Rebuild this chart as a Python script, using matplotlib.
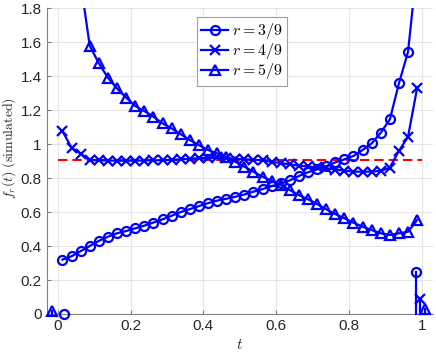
import numpy as np
import matplotlib
matplotlib.use("Agg")
import matplotlib.pyplot as plt

plt.rcParams['font.family'] = ['Liberation Sans', 'DejaVu Sans']
plt.rcParams['mathtext.fontset'] = 'cm'

# grid of t values (cell centres)
t = (np.arange(40) + 0.5) / 40

# r = 3/9
f3 = [0.32, 0.34, 0.37, 0.40, 0.43, 0.455, 0.475, 0.488, 0.504, 0.52,
      0.538, 0.557, 0.578, 0.60, 0.617, 0.635, 0.652, 0.667, 0.678, 0.69,
      0.703, 0.72, 0.735, 0.752, 0.768, 0.786, 0.812, 0.834, 0.851, 0.87,
      0.892, 0.91, 0.93, 0.965, 1.004, 1.067, 1.145, 1.357, 1.543, 2.05]
# r = 4/9
f4 = [1.076, 0.978, 0.943, 0.905, 0.905, 0.903, 0.902, 0.902, 0.902, 0.903,
      0.904, 0.905, 0.907, 0.91, 0.913, 0.917, 0.92, 0.922, 0.918, 0.913,
      0.91, 0.908, 0.904, 0.895, 0.888, 0.88, 0.873, 0.868, 0.863, 0.857,
      0.85, 0.843, 0.838, 0.837, 0.838, 0.842, 0.862, 0.96, 1.043, 1.33]
# r = 5/9
f5 = [4.0, 2.5, 1.95, 1.578, 1.475, 1.39, 1.327, 1.273, 1.224, 1.194,
      1.161, 1.122, 1.092, 1.058, 1.024, 0.994, 0.965, 0.945, 0.925, 0.896,
      0.867, 0.837, 0.808, 0.784, 0.759, 0.729, 0.70, 0.675, 0.647, 0.616,
      0.588, 0.563, 0.537, 0.514, 0.494, 0.475, 0.465, 0.475, 0.484, 0.553]

# point masses at the ends (drawn as stems, shifted a little)
atoms_t = {'o': [0.017, 0.985], 'x': [0.996], '^': [-0.017, 1.008]}
atoms_v = {'o': [0.0, 0.247], 'x': [0.09], '^': [0.02, 0.03]}

ref_level = 10 / 11

blue = (0, 0, 1)
fig = plt.figure(figsize=(4.36, 3.53), dpi=100)
ax = fig.add_axes([0.107, 0.1105, 0.886, 0.8665])

style = dict(color=blue, lw=1.6, ms=6.5, mew=1.6, mfc='none')
ax.plot(t, f3, marker='o', label=r'$r = 3/9$', **style)
ax.plot(t, f4, marker='x', label=r'$r = 4/9$', **style)
ax.plot(t, f5, marker='^', label=r'$r = 5/9$', **style)

for m in atoms_t:
    for tt, vv in zip(atoms_t[m], atoms_v[m]):
        ax.plot([tt, tt], [0, vv], marker=m, markevery=[1], clip_on=False,
                zorder=3, **style)

ax.plot([0, 1], [ref_level, ref_level], color='red', ls='--', lw=1.5,
        dashes=(4.5, 2.4), zorder=1.5)

ax.set_xlim(-0.031, 1.031)
ax.set_ylim(0, 1.8)
ax.set_xticks(np.arange(0, 1.01, 0.2))
ax.set_xticklabels(['0', '0.2', '0.4', '0.6', '0.8', '1'])
ax.set_yticks(np.arange(0, 1.81, 0.2))
ax.set_yticklabels(['0', '0.2', '0.4', '0.6', '0.8', '1', '1.2', '1.4', '1.6', '1.8'])
ax.grid(True, color='#e6e6e6', lw=0.8)
ax.set_axisbelow(True)
for s in ['top', 'right']:
    ax.spines[s].set_visible(False)
for s in ['left', 'bottom']:
    ax.spines[s].set_color('#808080')
ax.tick_params(direction='in', length=3, colors='#808080', labelcolor='#262626',
               labelsize=11)

ax.set_xlabel(r'$t$', fontsize=11, color='#262626', labelpad=3.5)
ax.set_ylabel(r'$f_r(t)\ \mathrm{(simulated)}$', fontsize=10, color='#262626')
ax.yaxis.set_label_coords(-0.075, 0.542)

leg = ax.legend(loc='upper left', bbox_to_anchor=(0.388, 0.972), borderaxespad=0,
                fontsize=11.5, handlelength=1.7, handletextpad=0.2,
                labelspacing=0.0, borderpad=0.3, fancybox=False, framealpha=1)
leg.get_frame().set_edgecolor('#a0a0a0')
leg.get_frame().set_linewidth(0.8)

fig.savefig('out.png', dpi=100)
